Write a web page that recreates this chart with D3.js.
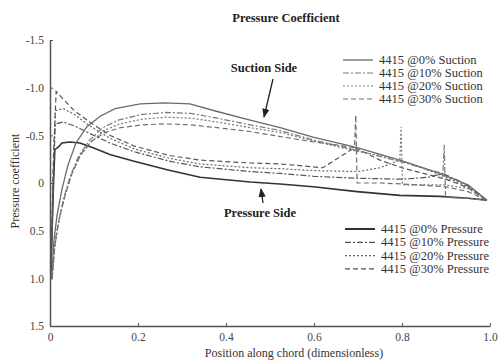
<!DOCTYPE html>
<html><head><meta charset="utf-8">
<script src="https://cdn.jsdelivr.net/npm/d3@7"></script>
<style>body{margin:0;background:#fff}svg{display:block}text{font-family:"Liberation Serif","DejaVu Serif",serif}</style>
</head><body><svg id="c" width="499" height="360"></svg>
<script>
// ---- data ----
const xTicks = [0, 0.2, 0.4, 0.6, 0.8, 1.0];
const xTickLabels = ["0", "0.2", "0.4", "0.6", "0.8", "1.0"];
const yTicks = [-1.5, -1.0, -0.5, 0, 0.5, 1.0, 1.5];
const yTickLabels = ["-1.5", "-1.0", "-0.5", "0", "0.5", "1.0", "1.5"];

const suctionNames = ["4415 @0% Suction", "4415 @10% Suction", "4415 @20% Suction", "4415 @30% Suction"];
const pressureNames = ["4415 @0% Pressure", "4415 @10% Pressure", "4415 @20% Pressure", "4415 @30% Pressure"];

const xS0 = [0.004, 0.009, 0.016, 0.027, 0.041, 0.059, 0.084, 0.114, 0.148, 0.205, 0.261, 0.318, 0.38, 0.455, 0.523, 0.598, 0.698, 0.795, 0.886, 0.95, 0.977, 0.993];
const cpS0 = [1.0, 0.6, 0.34, 0.07, -0.19, -0.42, -0.59, -0.70, -0.78, -0.83, -0.84, -0.83, -0.75, -0.66, -0.58, -0.48, -0.37, -0.24, -0.10, 0.02, 0.12, 0.18];

const xS10 = [0.004, 0.010, 0.018, 0.030, 0.045, 0.065, 0.090, 0.120, 0.155, 0.21, 0.265, 0.32, 0.38, 0.455, 0.523, 0.60, 0.70, 0.80, 0.86, 0.893, 0.896, 0.899, 0.95, 0.993];
const cpS10 = [1.0, 0.7, 0.45, 0.18, -0.06, -0.28, -0.45, -0.58, -0.66, -0.72, -0.74, -0.73, -0.68, -0.61, -0.55, -0.45, -0.34, -0.22, -0.14, -0.10, -0.40, 0.15, 0.16, 0.18];

const xS20 = [0.005, 0.011, 0.020, 0.033, 0.048, 0.068, 0.093, 0.123, 0.158, 0.21, 0.265, 0.32, 0.38, 0.455, 0.523, 0.60, 0.70, 0.76, 0.795, 0.798, 0.801, 0.85, 0.90, 0.95, 0.993];
const cpS20 = [1.0, 0.65, 0.40, 0.15, -0.08, -0.28, -0.43, -0.55, -0.62, -0.67, -0.69, -0.68, -0.64, -0.58, -0.53, -0.44, -0.33, -0.28, -0.24, -0.59, 0.02, 0.02, 0.02, 0.06, 0.18];

const xS30 = [0.005, 0.012, 0.022, 0.035, 0.050, 0.070, 0.095, 0.125, 0.160, 0.21, 0.26, 0.32, 0.38, 0.455, 0.52, 0.60, 0.65, 0.692, 0.695, 0.698, 0.75, 0.80, 0.90, 0.95, 0.993];
const cpS30 = [1.0, 0.60, 0.35, 0.12, -0.10, -0.30, -0.44, -0.53, -0.58, -0.61, -0.62, -0.61, -0.58, -0.54, -0.49, -0.43, -0.40, -0.37, -0.71, 0.0, 0.0, 0.01, 0.04, 0.09, 0.18];

const xP0 = [0.002, 0.004, 0.008, 0.011, 0.020, 0.027, 0.045, 0.068, 0.098, 0.136, 0.189, 0.266, 0.341, 0.455, 0.523, 0.598, 0.698, 0.795, 0.886, 0.95, 0.993];
const cpP0 = [1.0, 0.6, 0.0, -0.35, -0.38, -0.42, -0.43, -0.42, -0.37, -0.30, -0.23, -0.14, -0.06, -0.01, 0.01, 0.04, 0.09, 0.13, 0.14, 0.16, 0.18];

const xP10 = [0.002, 0.005, 0.008, 0.012, 0.030, 0.055, 0.090, 0.136, 0.19, 0.27, 0.34, 0.455, 0.523, 0.60, 0.70, 0.80, 0.86, 0.893, 0.93, 0.96, 0.993];
const cpP10 = [1.0, 0.5, -0.1, -0.62, -0.64, -0.60, -0.52, -0.42, -0.33, -0.23, -0.17, -0.12, -0.10, -0.07, -0.05, -0.04, -0.06, -0.10, -0.02, 0.06, 0.18];

const xP20 = [0.002, 0.005, 0.008, 0.012, 0.030, 0.055, 0.090, 0.136, 0.19, 0.27, 0.34, 0.455, 0.523, 0.60, 0.70, 0.75, 0.795, 0.85, 0.90, 0.95, 0.993];
const cpP20 = [1.0, 0.4, -0.2, -0.76, -0.78, -0.72, -0.60, -0.47, -0.36, -0.26, -0.20, -0.16, -0.15, -0.13, -0.12, -0.16, -0.24, -0.15, -0.06, 0.04, 0.18];

const xP30 = [0.002, 0.005, 0.008, 0.014, 0.030, 0.055, 0.090, 0.136, 0.19, 0.27, 0.34, 0.455, 0.523, 0.62, 0.692, 0.72, 0.75, 0.80, 0.90, 0.95, 0.993];
const cpP30 = [1.0, 0.3, -0.3, -0.96, -0.88, -0.76, -0.64, -0.50, -0.39, -0.29, -0.24, -0.21, -0.20, -0.16, -0.37, -0.31, -0.24, -0.16, -0.04, 0.05, 0.18];

// ---- chart ----
const svg = d3.select("#c");
const x = d3.scaleLinear().domain([0, 1]).range([50, 490]);
const y = d3.scaleLinear().domain([-1.5, 1.5]).range([40, 326]);

const dashes = [null, "6,2,2,2", "2,2", "5,3"];
const suctionColor = ["#6a6a6a", "#7a7a7a", "#7a7a7a", "#6e6e6e"];
const pressureColor = ["#333", "#555", "#666", "#555"];
const suctionWidth = [1.3, 1.2, 1.2, 1.2];
const pressureWidth = [1.6, 1.2, 1.2, 1.2];

const suctionData = [[xS0, cpS0], [xS10, cpS10], [xS20, cpS20], [xS30, cpS30]];
const pressureData = [[xP0, cpP0], [xP10, cpP10], [xP20, cpP20], [xP30, cpP30]];

const line = d3.line().x(d => x(d[0])).y(d => y(d[1]));
const toPts = (xs, ys) => xs.map((v, i) => [v, ys[i]]);

const plot = svg.append("g");
pressureData.forEach((s, i) => {
  plot.append("path").attr("d", line(toPts(s[0], s[1]))).attr("fill", "none")
    .attr("stroke", pressureColor[i]).attr("stroke-width", pressureWidth[i])
    .attr("stroke-dasharray", dashes[i]);
});
suctionData.forEach((s, i) => {
  plot.append("path").attr("d", line(toPts(s[0], s[1]))).attr("fill", "none")
    .attr("stroke", suctionColor[i]).attr("stroke-width", suctionWidth[i])
    .attr("stroke-dasharray", dashes[i]);
});

// axes
const yAxis = d3.axisLeft(y).tickValues(yTicks).tickSizeInner(-3).tickSizeOuter(0).tickPadding(6)
  .tickFormat((d, i) => yTickLabels[i]);
const gy = svg.append("g").attr("transform", "translate(50,0)").call(yAxis);
const xAxis = d3.axisBottom(x).tickValues(xTicks).tickSizeInner(-3).tickSizeOuter(0).tickPadding(7)
  .tickFormat((d, i) => xTickLabels[i]);
const gx = svg.append("g").attr("transform", "translate(0,326)").call(xAxis);
[gx, gy].forEach(g => {
  g.select(".domain").attr("stroke", "#555").attr("stroke-width", 1.5);
  g.selectAll(".tick line").attr("stroke", "#555");
  g.selectAll(".tick text").attr("fill", "#444").style("font-size", "11.5px").style("font-family", "Liberation Serif");
});

// titles
svg.append("text").attr("x", 286).attr("y", 22).attr("text-anchor", "middle")
  .style("font-weight", "bold").style("font-size", "12.5px").attr("fill", "#222").text("Pressure Coefficient");
svg.append("text").attr("transform", "translate(19,181) rotate(-90)").attr("text-anchor", "middle")
  .style("font-size", "12px").attr("fill", "#333").text("Pressure coefficient");
svg.append("text").attr("x", 294).attr("y", 357).attr("text-anchor", "middle")
  .style("font-size", "12px").attr("fill", "#333").text("Position along chord (dimensionless)");

// annotations
const defs = svg.append("defs");
defs.append("marker").attr("id", "ah").attr("viewBox", "0 0 10 10").attr("refX", 9).attr("refY", 5)
  .attr("markerWidth", 7).attr("markerHeight", 7).attr("orient", "auto")
  .append("path").attr("d", "M0,1 L10,5 L0,9 Z").attr("fill", "#222");
svg.append("text").attr("x", 264).attr("y", 72).attr("text-anchor", "middle")
  .style("font-weight", "bold").style("font-size", "12.5px").attr("fill", "#222").text("Suction Side");
svg.append("line").attr("x1", 273).attr("y1", 79).attr("x2", 264).attr("y2", 117)
  .attr("stroke", "#222").attr("stroke-width", 1.3).attr("marker-end", "url(#ah)");
svg.append("text").attr("x", 260).attr("y", 217).attr("text-anchor", "middle")
  .style("font-weight", "bold").style("font-size", "12.5px").attr("fill", "#222").text("Pressure Side");
svg.append("line").attr("x1", 263).attr("y1", 203).attr("x2", 261).attr("y2", 189)
  .attr("stroke", "#222").attr("stroke-width", 1.3).attr("marker-end", "url(#ah)");

// legends
function legend(names, colors, widths, x0, y0, step, tx) {
  names.forEach((n, i) => {
    const yy = y0 + i * step;
    svg.append("line").attr("x1", x0).attr("x2", x0 + 30).attr("y1", yy).attr("y2", yy)
      .attr("stroke", colors[i]).attr("stroke-width", widths[i]).attr("stroke-dasharray", dashes[i]);
    svg.append("text").attr("x", tx).attr("y", yy + 4).style("font-size", "12.5px").attr("fill", "#333").text(n);
  });
}
legend(suctionNames, suctionColor, suctionWidth, 343, 60, 13, 379);
legend(pressureNames, pressureColor, [2, 1.2, 1.2, 1.2], 345, 229, 13.3, 381);
</script></body></html>
